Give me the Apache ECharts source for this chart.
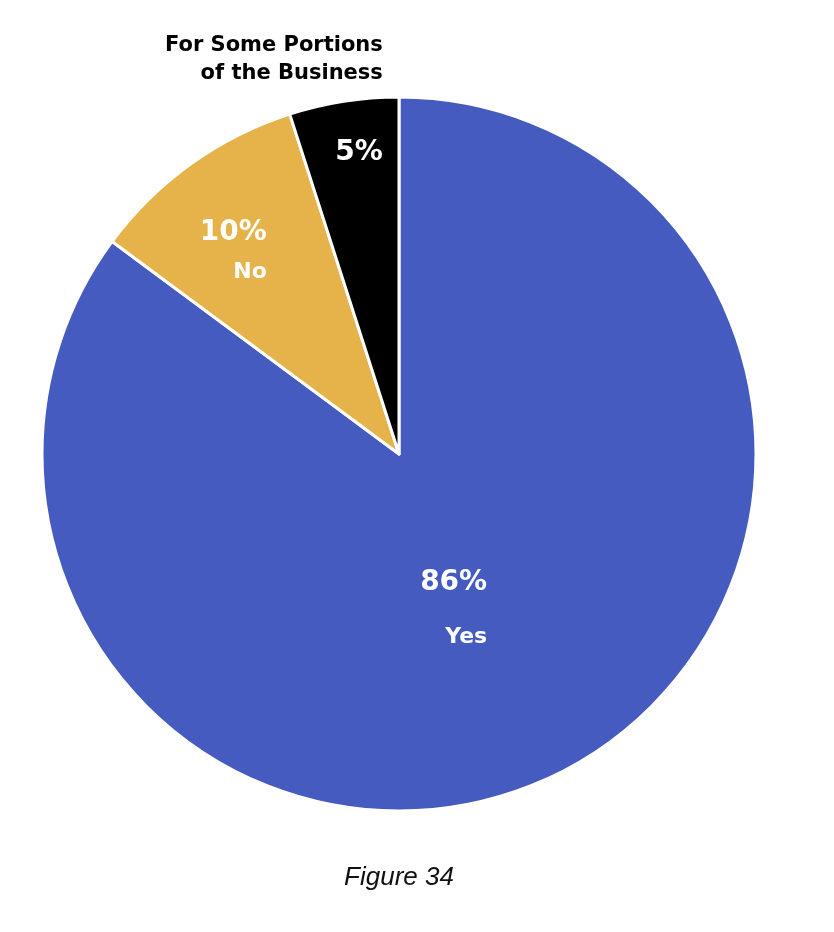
<!DOCTYPE html>
<html>
<head>
<meta charset="utf-8">
<script src="https://cdn.jsdelivr.net/npm/echarts@6/dist/echarts.min.js"></script>
<style>html,body{margin:0;padding:0;background:#fff;}#c{width:834px;height:932px;}</style>
</head>
<body>
<div id="c"></div>
<script>
const categories = ['Yes', 'No', 'For Some Portions\nof the Business'];
const values = [86, 10, 5];
const colors = ['#455BBF', '#E6B24A', '#000000'];
const caption = 'Figure 34';

const chart = echarts.init(document.getElementById('c'));
const FONT = 'DejaVu Sans';
const shifts = [[-27, -7], [-60, -55], [-97, -175]];
const gaps = ['s1', 's2'];

chart.setOption({
  backgroundColor: '#ffffff',
  animation: false,
  graphic: [{
    type: 'text', x: 399, y: 878,
    style: { text: caption, align: 'center', verticalAlign: 'middle',
      font: 'italic 26px "Liberation Sans"', fill: '#111' }
  }],
  series: [{
    type: 'pie',
    center: [399, 454],
    radius: [0, 357],
    startAngle: 90,
    clockwise: true,
    data: categories.map((c, i) => ({ name: c, value: values[i], itemStyle: { color: colors[i] } })),
    itemStyle: { borderColor: '#ffffff', borderWidth: 3 },
    label: {
      show: true,
      position: 'inside',
      fontFamily: FONT,
      formatter: (p) => {
        if (p.dataIndex === 2) {
          const lines = p.name.split('\n');
          return lines.map(l => '{t|' + l + '}').join('\n') + '\n{s| }\n{b|' + p.value + '%}';
        }
        return '{p|' + p.value + '%}\n{' + gaps[p.dataIndex] + '| }\n{n|' + p.name + '}';
      },
      rich: {
        p: { color: '#fff', fontSize: 28, fontWeight: 'bold', fontFamily: FONT, align: 'right', lineHeight: 30 },
        n: { color: '#fff', fontSize: 22, fontWeight: 'bold', fontFamily: FONT, align: 'right', lineHeight: 26 },
        s1: { fontSize: 10, lineHeight: 26, align: 'right' },
        s2: { fontSize: 10, lineHeight: 12, align: 'right' },
        t: { color: '#000', fontSize: 21, fontWeight: 'bold', fontFamily: FONT, align: 'right', lineHeight: 28 },
        s: { fontSize: 10, lineHeight: 50, align: 'right' },
        b: { color: '#fff', fontSize: 28, fontWeight: 'bold', fontFamily: FONT, align: 'right', lineHeight: 30 }
      }
    },
    labelLine: { show: false },
    labelLayout: (params) => ({ dx: shifts[params.dataIndex][0], dy: shifts[params.dataIndex][1] })
  }]
});
</script>
</body>
</html>
